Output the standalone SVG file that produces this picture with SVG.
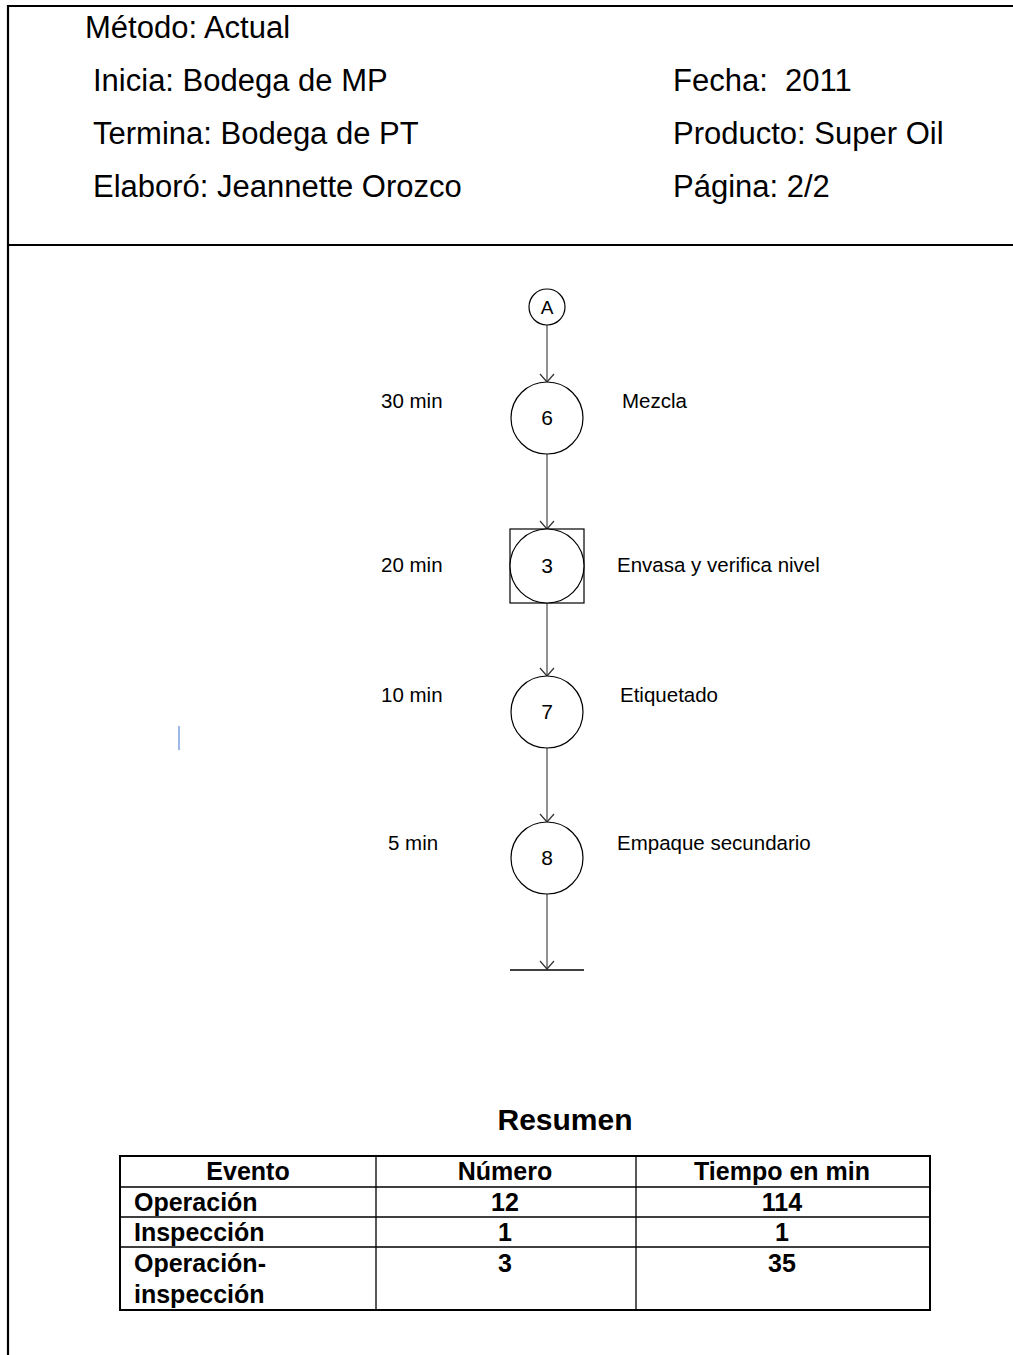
<svg xmlns="http://www.w3.org/2000/svg" width="1013" height="1355" viewBox="0 0 1013 1355">
  <style>
    .frame { stroke: #000; stroke-width: 2.2; fill: none; }
    .hdr { font-family: "Liberation Sans", Arial, sans-serif; font-size: 31px; fill: #000; }
    .lbl { font-family: "Liberation Sans", Arial, sans-serif; font-size: 20.5px; fill: #000; }
    .num { font-family: "Liberation Sans", Arial, sans-serif; font-size: 21px; fill: #000; text-anchor: middle; }
    .sym { fill: #fff; stroke: #000; stroke-width: 1.2; }
    .flow { stroke: #555; stroke-width: 1.3; fill: none; }
    .tbl { font-family: "Liberation Sans", Arial, sans-serif; font-size: 25px; font-weight: bold; fill: #000; }
    .ttl { font-family: "Liberation Sans", Arial, sans-serif; font-size: 30px; font-weight: bold; fill: #000; text-anchor: middle; }
    .mid { text-anchor: middle; }
    .grid { stroke: #000; stroke-width: 1.3; fill: none; }
  </style>
  <defs>
    <!-- open V arrowhead, tip at the line end -->
    <marker id="vee" viewBox="0 0 14 16" refX="13" refY="8" markerWidth="14" markerHeight="16" markerUnits="userSpaceOnUse" orient="auto">
      <path d="M5,1 L13,8 L5,15" fill="none" stroke="#333" stroke-width="1.2"/>
    </marker>
  </defs>

  <rect width="1013" height="1355" fill="#fff"/>

  <!-- page frame and header divider -->
  <g id="frame">
    <path class="frame" d="M8,1355 V6 H1013"/>
    <path class="frame" d="M8,245 H1013"/>
  </g>

  <!-- header block -->
  <g id="header">
    <text class="hdr" x="85" y="38">Método: Actual</text>
    <text class="hdr" x="93" y="91">Inicia: Bodega de MP</text>
    <text class="hdr" x="93" y="144">Termina: Bodega de PT</text>
    <text class="hdr" x="93" y="197">Elaboró: Jeannette Orozco</text>
    <text class="hdr" x="673" y="91">Fecha:&#160; 2011</text>
    <text class="hdr" x="673" y="144">Producto: Super Oil</text>
    <text class="hdr" x="673" y="197">Página: 2/2</text>
  </g>

  <!-- connectors -->
  <g id="connectors">
    <line class="flow" x1="547" y1="325" x2="547" y2="382" marker-end="url(#vee)"/>
    <line class="flow" x1="547" y1="454" x2="547" y2="529" marker-end="url(#vee)"/>
    <line class="flow" x1="547" y1="603" x2="547" y2="676" marker-end="url(#vee)"/>
    <line class="flow" x1="547" y1="748" x2="547" y2="822" marker-end="url(#vee)"/>
    <line class="flow" x1="547" y1="894" x2="547" y2="969" marker-end="url(#vee)"/>
    <line x1="510" y1="970" x2="584" y2="970" stroke="#000" stroke-width="1.3"/>
  </g>

  <!-- connector A -->
  <g id="node-A">
    <circle class="sym" cx="547" cy="307" r="18"/>
    <text class="num" x="547" y="314" style="font-size:19px">A</text>
  </g>

  <!-- operation 6 -->
  <g id="node-6">
    <circle class="sym" cx="547" cy="418" r="36"/>
    <text class="num" x="547" y="425">6</text>
    <text class="lbl" x="381" y="408">30 min</text>
    <text class="lbl" x="622" y="408">Mezcla</text>
  </g>

  <!-- combined operation-inspection 3 -->
  <g id="node-3">
    <rect class="sym" x="510" y="529" width="74" height="74"/>
    <circle class="sym" cx="547" cy="566" r="37"/>
    <text class="num" x="547" y="573">3</text>
    <text class="lbl" x="381" y="572">20 min</text>
    <text class="lbl" x="617" y="572">Envasa y verifica nivel</text>
  </g>

  <!-- operation 7 -->
  <g id="node-7">
    <circle class="sym" cx="547" cy="712" r="36"/>
    <text class="num" x="547" y="719">7</text>
    <text class="lbl" x="381" y="702">10 min</text>
    <text class="lbl" x="620" y="702">Etiquetado</text>
  </g>

  <!-- operation 8 -->
  <g id="node-8">
    <circle class="sym" cx="547" cy="858" r="36"/>
    <text class="num" x="547" y="865">8</text>
    <text class="lbl" x="388" y="850">5 min</text>
    <text class="lbl" x="617" y="850">Empaque secundario</text>
  </g>

  <!-- text caret mark -->
  <rect x="178" y="726" width="2" height="24" fill="#9db8e6"/>

  <!-- summary table -->
  <g id="summary">
    <text class="ttl" x="565" y="1130">Resumen</text>
    <rect x="120" y="1156" width="810" height="154" fill="none" stroke="#000" stroke-width="2"/>
    <path class="grid" d="M120,1187 H930 M120,1217 H930 M120,1247 H930 M376,1156 V1310 M636,1156 V1310"/>
    <text class="tbl mid" x="248" y="1180">Evento</text>
    <text class="tbl mid" x="505" y="1180">Número</text>
    <text class="tbl mid" x="782" y="1180">Tiempo en min</text>
    <text class="tbl" x="134" y="1211">Operación</text>
    <text class="tbl mid" x="505" y="1211">12</text>
    <text class="tbl mid" x="782" y="1211">114</text>
    <text class="tbl" x="134" y="1241">Inspección</text>
    <text class="tbl mid" x="505" y="1241">1</text>
    <text class="tbl mid" x="782" y="1241">1</text>
    <text class="tbl" x="134" y="1272">Operación-</text>
    <text class="tbl" x="134" y="1303">inspección</text>
    <text class="tbl mid" x="505" y="1272">3</text>
    <text class="tbl mid" x="782" y="1272">35</text>
  </g>
</svg>
